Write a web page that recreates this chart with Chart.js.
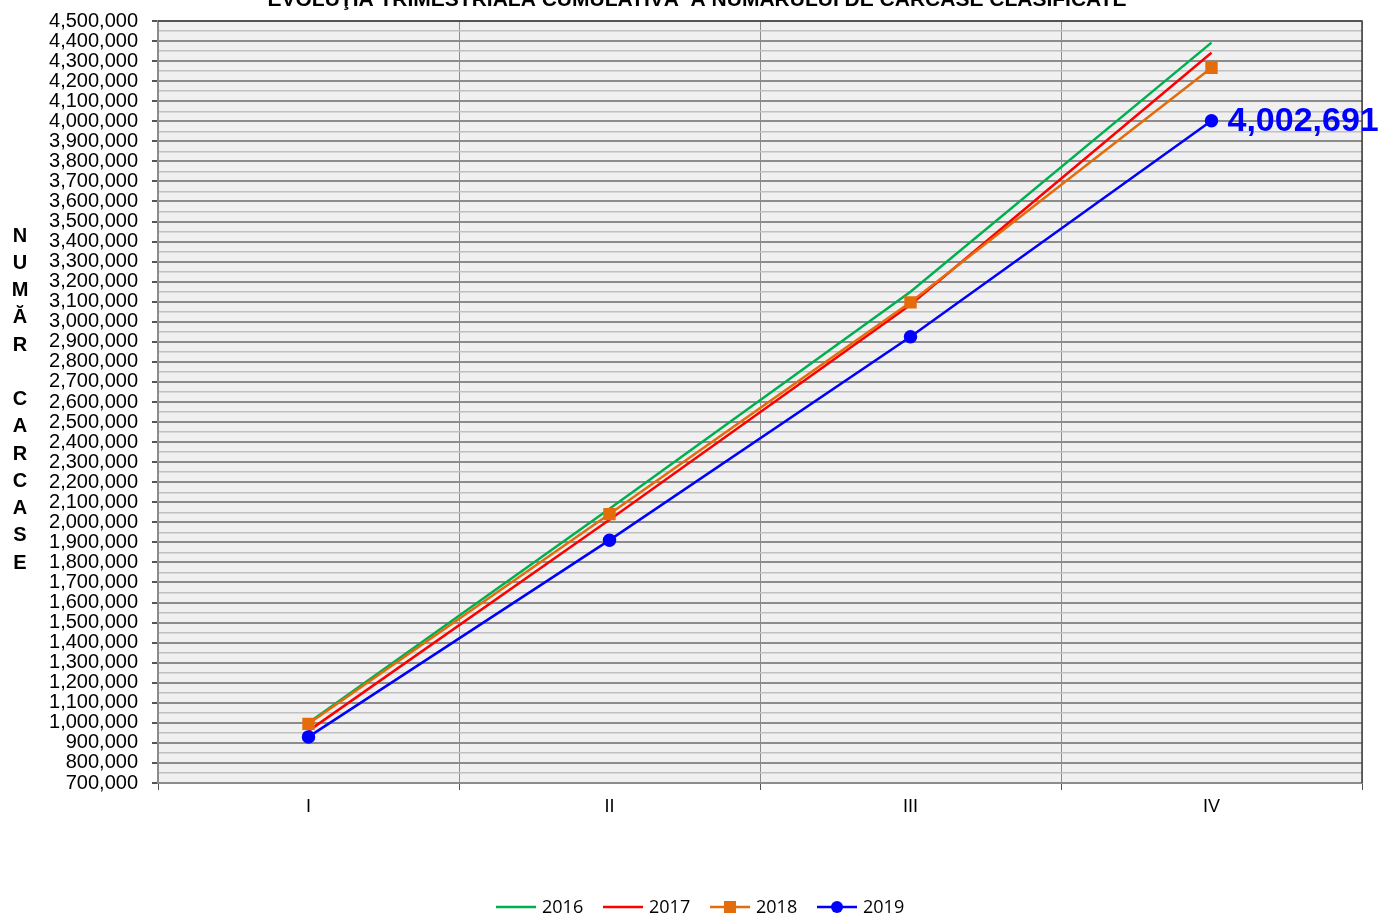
<!DOCTYPE html>
<html>
<head>
<meta charset="utf-8">
<script src="https://cdn.jsdelivr.net/npm/chart.js@4.4.1/dist/chart.umd.min.js"></script>
<style>
  html, body { margin: 0; padding: 0; background: #fff; }
  #wrap { width: 1381px; height: 917px; }
</style>
</head>
<body>
<div id="wrap"><canvas id="chartCarcase"></canvas></div>
<script>
const TRIMESTRE = ['I', 'II', 'III', 'IV'];
const ANI = ['2016', '2017', '2018', '2019'];
const CARCASE_2016 = [1000000, 2068000, 3150000, 4392000];
const CARCASE_2017 = [960000, 2013000, 3085000, 4342000];
const CARCASE_2018 = [995000, 2041000, 3097000, 4267000];
const CARCASE_2019 = [930000, 1911000, 2925000, 4002691];
const Y_MIN = 700000;
const Y_MAX = 4500000;
const TITLU = 'EVOLUŢIA TRIMESTRIALĂ CUMULATIVĂ  A NUMĂRULUI DE CARCASE CLASIFICATE';
const TITLU_Y = ['N', 'U', 'M', 'Ă', 'R', '', 'C', 'A', 'R', 'C', 'A', 'S', 'E'];

const CULORI = ['#00b050', '#ff0000', '#e46c0a', '#0000ff'];
const MARKERE = [null, null, 'rect', 'circle'];

const fmt = v => v.toLocaleString('en-US');
const esteMajor = v => Math.round(v) % 100000 === 0;

// fundal, chenar, eticheta de date, titluri si legenda
const decor = {
  id: 'decor',
  beforeDraw(chart) {
    const { ctx, chartArea: a } = chart;
    ctx.save();
    ctx.fillStyle = '#f0f0f0';
    ctx.fillRect(a.left, a.top, a.right - a.left, a.bottom - a.top);
    ctx.restore();
  },
  afterDatasetsDraw(chart) {
    const { ctx, chartArea: a } = chart;
    ctx.save();
    ctx.strokeStyle = '#404040';
    ctx.lineWidth = 1.5;
    ctx.beginPath();
    ctx.moveTo(a.left, a.top);
    ctx.lineTo(a.right, a.top);
    ctx.lineTo(a.right, a.bottom);
    ctx.stroke();

    // eticheta ultimului punct 2019
    const pt = chart.getDatasetMeta(3).data[3];
    ctx.fillStyle = '#0000ff';
    ctx.font = 'bold 34px "Liberation Sans", Arial, sans-serif';
    ctx.textAlign = 'left';
    ctx.textBaseline = 'middle';
    ctx.fillText(fmt(CARCASE_2019[3]), pt.x + 16, pt.y + 1);
    ctx.restore();
  },
  afterDraw(chart) {
    const { ctx } = chart;
    ctx.save();
    ctx.fillStyle = '#000';

    // titlu (taiat sus)
    ctx.font = 'bold 21px "Liberation Sans", Arial, sans-serif';
    ctx.textAlign = 'center';
    ctx.textBaseline = 'alphabetic';
    ctx.fillText(TITLU, 697, 6);

    // titlul axei Y, litere stivuite
    ctx.font = 'bold 20px "Liberation Sans", Arial, sans-serif';
    ctx.textBaseline = 'middle';
    TITLU_Y.forEach((lit, i) => {
      ctx.fillText(lit, 20, 236 + i * 27.25);
    });

    // legenda
    let x = 496;
    const y = 907;
    ctx.font = '18px "Open Sans", "Noto Sans", sans-serif';
    ctx.textAlign = 'left';
    ANI.forEach((an, i) => {
      ctx.strokeStyle = CULORI[i];
      ctx.fillStyle = CULORI[i];
      ctx.lineWidth = 2.5;
      ctx.beginPath();
      ctx.moveTo(x, y);
      ctx.lineTo(x + 40, y);
      ctx.stroke();
      if (MARKERE[i] === 'rect') {
        ctx.fillRect(x + 14, y - 6, 12, 12);
      } else if (MARKERE[i] === 'circle') {
        ctx.beginPath();
        ctx.arc(x + 20, y, 6, 0, Math.PI * 2);
        ctx.fill();
      }
      ctx.fillStyle = '#000';
      ctx.fillText(an, x + 46, y + 1);
      x += 107;
    });
    ctx.restore();
  }
};

const dateSerii = [CARCASE_2016, CARCASE_2017, CARCASE_2018, CARCASE_2019];

const ctxGrafic = document.getElementById('chartCarcase');
new Chart(ctxGrafic, {
  type: 'line',
  data: {
    labels: TRIMESTRE,
    datasets: ANI.map((an, i) => ({
      label: an,
      data: dateSerii[i],
      borderColor: CULORI[i],
      backgroundColor: CULORI[i],
      borderWidth: 2.5,
      tension: 0,
      fill: false,
      pointStyle: MARKERE[i] || 'circle',
      pointRadius: MARKERE[i] === 'rect' ? 7 : MARKERE[i] === 'circle' ? 5.5 : 0,
      pointHoverRadius: 0,
      order: 4 - i,
    })),
  },
  options: {
    responsive: true,
    maintainAspectRatio: false,
    animation: false,
    layout: { padding: { top: 21, right: 19, left: 0, bottom: 0 } },
    plugins: {
      legend: { display: false },
      tooltip: { enabled: false },
    },
    scales: {
      x: {
        offset: true,
        grid: {
          offset: true,
          color: '#8c8c8c',
          lineWidth: 1,
          tickLength: 7,
          tickColor: '#555',
        },
        border: { color: '#8c8c8c', width: 2 },
        ticks: {
          color: '#000',
          padding: 6,
          font: { family: '"Liberation Sans", Arial, sans-serif', size: 18 },
        },
        afterFit: s => { s.height = 134; },
      },
      y: {
        min: Y_MIN,
        max: Y_MAX,
        grid: {
          color: c => esteMajor(c.tick.value) ? '#8c8c8c' : '#c0c0c0',
          lineWidth: c => esteMajor(c.tick.value) ? 2 : 1.4,
          tickColor: c => esteMajor(c.tick.value) ? '#555' : 'rgba(0,0,0,0)',
          tickLength: 6,
        },
        border: { color: '#8c8c8c', width: 2 },
        ticks: {
          stepSize: 50000,
          autoSkip: false,
          maxTicksLimit: 200,
          color: '#000',
          padding: 14,
          font: { family: '"Liberation Sans", Arial, sans-serif', size: 20 },
          callback: v => esteMajor(v) ? fmt(v) : '',
        },
        afterFit: s => {
          s.width = 158;
          s.paddingTop = 0;
          s.paddingBottom = 0;
        },
      },
    },
  },
  plugins: [decor],
});
</script>
</body>
</html>
